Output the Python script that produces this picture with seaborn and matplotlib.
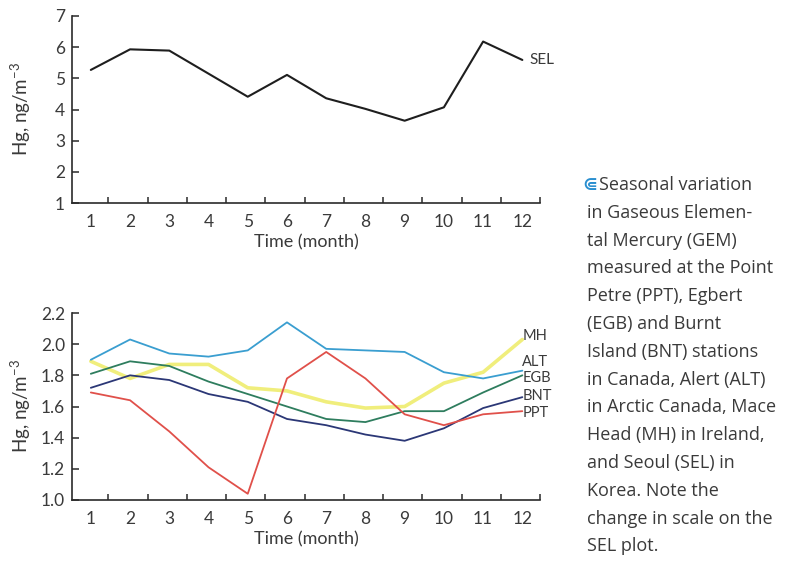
import matplotlib
matplotlib.use("Agg")
import matplotlib.pyplot as plt
import numpy as np
import pandas as pd
import seaborn as sns

# ---------------- data ----------------
months = list(range(1, 13))
sel = [5.27, 5.93, 5.89, 5.15, 4.41, 5.11, 4.36, 4.02, 3.64, 4.07, 6.18, 5.59]
mh = [1.89, 1.78, 1.87, 1.87, 1.72, 1.70, 1.63, 1.59, 1.60, 1.75, 1.82, 2.03]
alt = [1.90, 2.03, 1.94, 1.92, 1.96, 2.14, 1.97, 1.96, 1.95, 1.82, 1.78, 1.83]
egb = [1.81, 1.89, 1.86, 1.76, 1.68, 1.60, 1.52, 1.50, 1.57, 1.57, 1.69, 1.80]
bnt = [1.72, 1.80, 1.77, 1.68, 1.63, 1.52, 1.48, 1.42, 1.38, 1.46, 1.59, 1.66]
ppt = [1.69, 1.64, 1.44, 1.21, 1.04, 1.78, 1.95, 1.78, 1.55, 1.48, 1.55, 1.57]
stations = ["MH", "ALT", "EGB", "BNT", "PPT"]
top_yticks = [1, 2, 3, 4, 5, 6, 7]
bot_yticks = [1.0, 1.2, 1.4, 1.6, 1.8, 2.0, 2.2]
caption = [
    "Seasonal variation",
    "in Gaseous Elemen-",
    "tal Mercury (GEM)",
    "measured at the Point",
    "Petre (PPT), Egbert",
    "(EGB) and Burnt",
    "Island (BNT) stations",
    "in Canada, Alert (ALT)",
    "in Arctic Canada, Mace",
    "Head (MH) in Ireland,",
    "and Seoul (SEL) in",
    "Korea. Note the",
    "change in scale on the",
    "SEL plot.",
]

# ---------------- style ----------------
sns.set_theme(style="white")
plt.rcParams["font.family"] = ["Lato", "DejaVu Sans"]
plt.rcParams["mathtext.default"] = "regular"

colors = {"MH": "#f0ee7c", "ALT": "#3a9ed0", "EGB": "#2e7d5e",
          "BNT": "#2b3776", "PPT": "#e0504a"}
widths = {"MH": 2.6, "ALT": 1.3, "EGB": 1.3, "BNT": 1.3, "PPT": 1.3}
label_y = {"MH": 2.05, "ALT": 1.885, "EGB": 1.78, "BNT": 1.665, "PPT": 1.56}
txt = "#3a3a3a"
axc = "#2a2a2a"

W, H = 791, 562
fig = plt.figure(figsize=(W / 100, H / 100), dpi=100)

def fx(px):
    return px / W

def fy(py):
    return 1 - py / H

ax1 = fig.add_axes([fx(72), fy(203), fx(540) - fx(72), (203 - 16) / H])
ax2 = fig.add_axes([fx(72), fy(500), fx(540) - fx(72), (500 - 313) / H])

# top panel
df_top = pd.DataFrame({"month": months, "Hg": sel})
sns.lineplot(data=df_top, x="month", y="Hg", ax=ax1, color="#1e1e1e", lw=1.5)
ax1.annotate("SEL", xy=(12, sel[-1]), xytext=(5, 0), textcoords="offset points",
             fontsize=11, color=txt, va="center", ha="left")
ax1.set_ylim(1, 7)
ax1.set_yticks(top_yticks)
ax1.set_yticklabels([str(v) for v in top_yticks])

# bottom panel
df = pd.DataFrame({
    "month": months * len(stations),
    "Hg": mh + alt + egb + bnt + ppt,
    "station": sum([[s] * 12 for s in stations], []),
})
for s in stations:
    sns.lineplot(data=df[df.station == s], x="month", y="Hg", ax=ax2,
                 color=colors[s], lw=widths[s], legend=False)
    ax2.text(12.0, label_y[s], s, fontsize=10.5, color=txt, va="center",
             ha="left")
ax2.set_ylim(1.0, 2.2)
ax2.set_yticks(bot_yticks)
ax2.set_yticklabels([f"{v:.1f}" for v in bot_yticks])

for ax in (ax1, ax2):
    ax.set_xlim(0.52, 12.45)
    ax.set_xticks(months)
    ax.set_xticklabels([str(m) for m in months])
    ax.set_xticks([m + 0.45 for m in months], minor=True)
    ax.tick_params(axis="x", which="major", length=0, pad=8,
                   labelsize=12.5, labelcolor=txt)
    ax.tick_params(axis="x", which="minor", direction="in", length=4,
                   width=1.1, color=axc, bottom=True)
    ax.tick_params(axis="y", which="major", direction="in", length=5,
                   width=1.1, color=axc, left=True, pad=5,
                   labelsize=12.5, labelcolor=txt)
    for sp in ("top", "right"):
        ax.spines[sp].set_visible(False)
    for sp in ("left", "bottom"):
        ax.spines[sp].set_color(axc)
        ax.spines[sp].set_linewidth(1.2)
    ax.set_xlabel("Time (month)", fontsize=13, color=txt, labelpad=3)
    ax.set_ylabel("Hg, ng/m$^{-3}$", fontsize=13.5, color=txt)
    ax.yaxis.set_label_coords(-0.083, 0.5)
    ax.patch.set_alpha(0)

# caption
for i, line in enumerate(caption):
    y = fy(185 + i * 27.8)
    xx = fx(599) if i == 0 else fx(587)
    fig.text(xx, y, line, fontsize=13, color=txt, va="center", ha="left",
             family=["Open Sans", "DejaVu Sans"])
fig.text(fx(582), fy(185), "\u22d0", fontsize=13, color="#2a8fd0",
         va="center", ha="left", family=["DejaVu Sans"], fontweight="bold")

fig.savefig("out.png", dpi=100)
